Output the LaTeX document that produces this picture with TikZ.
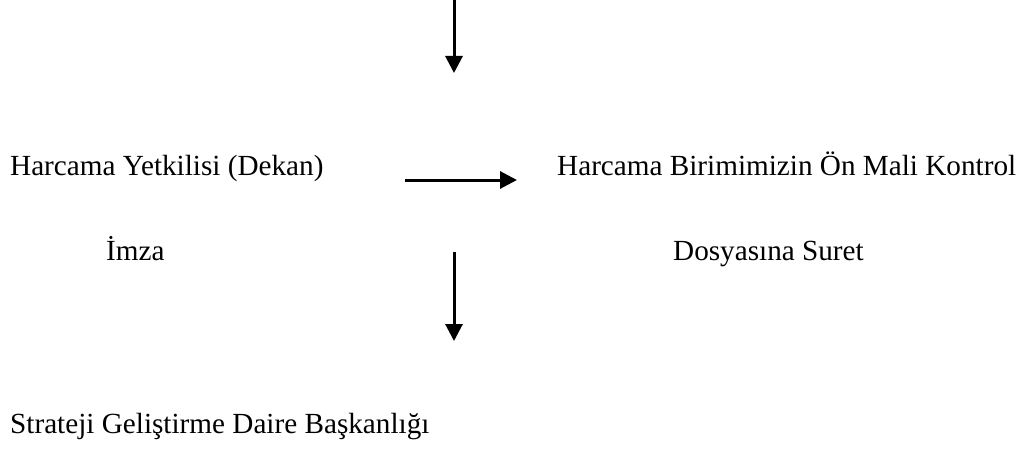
\documentclass[tikz,border=0pt]{standalone}
\usepackage{fontspec}
\setmainfont{Liberation Serif}
\usetikzlibrary{arrows.meta}
\begin{document}
\begin{tikzpicture}[x=1pt,y=-1pt,
  lbl/.style={anchor=base west,inner sep=0pt,font=\fontsize{29.2}{34}\selectfont},
  arr/.style={line width=3pt,-{Triangle[width=17pt,length=17pt]}}]
\useasboundingbox (0,0) rectangle (1023,452);
\node[lbl] (hy) at (10,175) {Harcama Yetkilisi (Dekan)};
\node[lbl] (imza) at (106,260) {İmza};
\node[lbl] (hb) at (557,175) {Harcama Birimimizin Ön Mali Kontrol};
\node[lbl] (ds) at (673,260) {Dosyasına Suret};
\node[lbl] (sg) at (10,433) {Strateji Geliştirme Daire Başkanlığı};
\coordinate (t1) at (454,0);
\coordinate (t2) at (454,73);
\coordinate (m1) at (405,180);
\coordinate (m2) at (517,180);
\coordinate (b1) at (454,252);
\coordinate (b2) at (454,341);
\draw[arr] (t1) -- (t2);
\draw[arr] (m1) -- (m2);
\draw[arr] (b1) -- (b2);
\end{tikzpicture}
\end{document}
